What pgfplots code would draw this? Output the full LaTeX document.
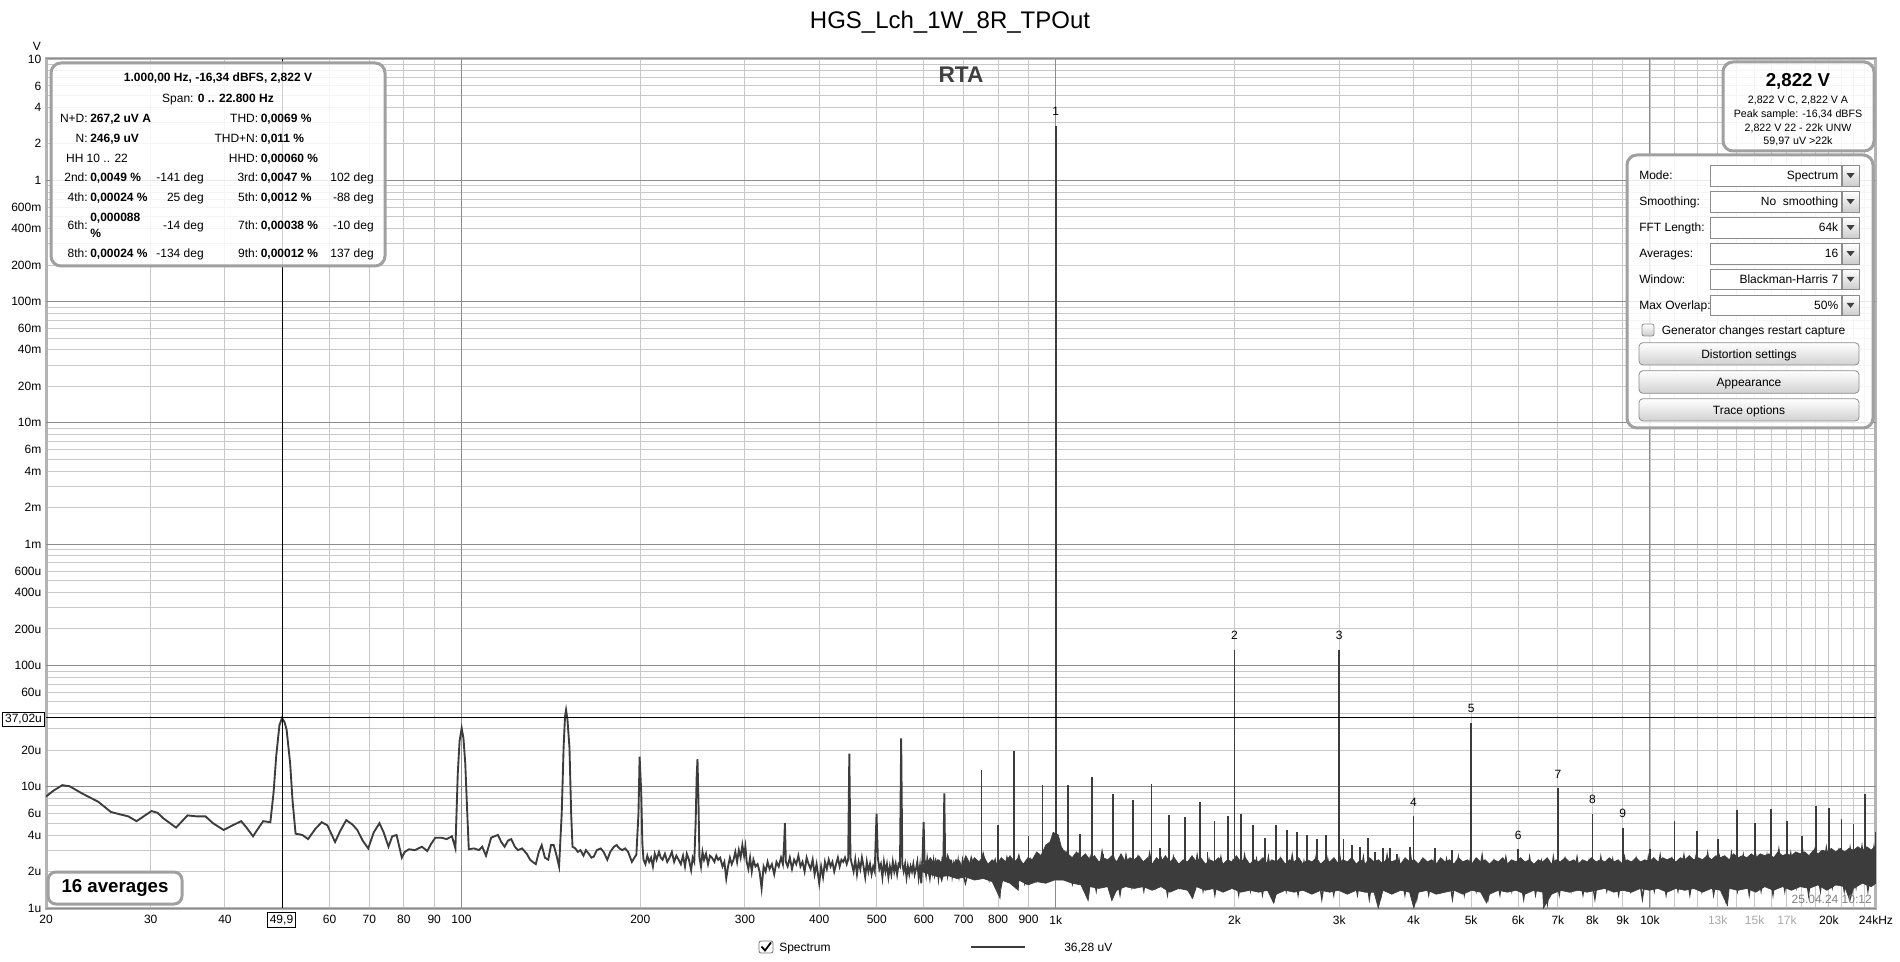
\documentclass[border=0pt]{standalone}
\usepackage{fontspec}
\setmainfont{Liberation Sans}
\usepackage{pgfplots}
\pgfplotsset{compat=1.18}
\definecolor{trace}{HTML}{3C3C3C}
\definecolor{gminor}{HTML}{C8C8C8}
\definecolor{gmajor}{HTML}{8C8C8C}
\definecolor{frame}{HTML}{B4B4B4}
\definecolor{bord}{HTML}{A0A0A0}
\definecolor{lab}{HTML}{A8A8A8}
\newcommand\fn{\fontsize{9}{10.5}\selectfont}
\newcommand\fs{\fontsize{8}{9.5}\selectfont}
\begin{document}
\begin{tikzpicture}
\path[use as bounding box] (0,0) rectangle (1425pt,720.75pt);
\begin{axis}[
  at={(34.5pt,39.75pt)}, anchor=south west,
  scale only axis, width=1372.5pt, height=636.75pt,
  xmode=log, ymode=log,
  xmin=20, xmax=24000, ymin=1, ymax=1e7,
  axis line style={draw=frame, line width=2.25pt},
  major tick length=0pt, minor tick length=0pt,
  grid=both,
  major grid style={draw=gminor, line width=0.7pt},
  minor grid style={draw=gminor, line width=0.7pt},
  xtick={20,30,40,60,70,80,90,100,200,300,400,500,600,700,800,900,1000,2000,3000,4000,5000,6000,7000,8000,9000,10000,13000,15000,17000,20000,24000},
  xticklabels={20,30,40,60,70,80,90,100,200,300,400,500,600,700,800,900,1k,2k,3k,4k,5k,6k,7k,8k,9k,10k,\textcolor{lab}{13k},\textcolor{lab}{15k},\textcolor{lab}{17k},20k,24kHz},
  minor xtick={50,11000,12000,14000,16000,18000,19000,21000,22000,23000},
  ytick={1,2,4,6,10,20,60,100,200,400,600,1000,2000,4000,6000,1e4,2e4,4e4,6e4,1e5,2e5,4e5,6e5,1e6,2e6,4e6,6e6,1e7},
  yticklabels={1u,2u,4u,6u,10u,20u,60u,100u,200u,400u,600u,1m,2m,4m,6m,10m,20m,40m,60m,100m,200m,400m,600m,1,2,4,6,10},
  minor ytick={3,5,7,8,9,30,40,50,70,80,90,300,500,700,800,900,3000,5000,7000,8000,9000,3e4,5e4,7e4,8e4,9e4,3e5,5e5,7e5,8e5,9e5,3e6,5e6,7e6,8e6,9e6},
  extra x ticks={100,1000,10000}, extra x tick labels={},
  extra x tick style={grid=major, major grid style={draw=gmajor, line width=0.75pt}},
  extra y ticks={1,10,100,1000,1e4,1e5,1e6,1e7}, extra y tick labels={},
  extra y tick style={grid=major, major grid style={draw=gmajor, line width=0.75pt}},
  xticklabel style={font=\fn, yshift=-2pt},
  yticklabel style={font=\fn},
]
% noise floor band (upper edge forward, lower edge backward)
\addplot[draw=trace, fill=trace, line width=0.5pt] table {
594 2.4
603 2.2
615 2.6
625 2.3
636 2.5
648 2.2
659 2.6
670 2.3
682 2.5
694 2.2
706 2.7
718 2.3
730 2.6
743 2.4
756 2.7
769 2.3
782 2.5
796 2.3
810 2.6
824 2.4
838 2.7
852 2.4
867 2.6
882 2.3
898 2.6
913 2.5
929 2.9
945 2.7
962 3.3
978 3.5
990 4.2
1010 4.0
1022 3.2
1030 3.0
1048 2.8
1066 2.6
1084 2.9
1103 2.6
1122 2.8
1142 2.5
1162 2.7
1182 2.4
1202 2.6
1223 2.5
1244 2.7
1266 2.4
1288 2.8
1310 2.4
1333 2.6
1356 2.5
1380 2.7
1404 2.4
1428 2.6
1453 2.3
1478 2.6
1504 2.4
1530 2.7
1556 2.4
1583 2.6
1611 2.3
1639 2.5
1667 2.4
1696 2.7
1725 2.4
1755 2.6
1786 2.3
1817 2.5
1848 2.4
1880 2.6
1913 2.3
1946 2.5
1980 2.4
2014 2.7
2049 2.4
2085 2.6
2121 2.3
2158 2.5
2195 2.4
2233 2.6
2272 2.3
2311 2.5
2351 2.4
2392 2.6
2434 2.3
2476 2.5
2519 2.4
2563 2.6
2607 2.3
2652 2.5
2698 2.4
2745 2.6
2793 2.3
2841 2.5
2890 2.4
2940 2.6
2992 2.3
3043 2.5
3096 2.4
3150 2.6
3205 2.3
3260 2.5
3317 2.3
3375 2.6
3433 2.4
3493 2.5
3553 2.3
3615 2.6
3678 2.4
3741 2.5
3806 2.3
3872 2.6
3940 2.4
4008 2.5
4077 2.3
4148 2.6
4220 2.4
4293 2.5
4368 2.3
4444 2.6
4521 2.4
4599 2.5
4679 2.3
4760 2.6
4843 2.4
4927 2.5
5012 2.3
5099 2.6
5188 2.4
5278 2.5
5369 2.3
5462 2.5
5557 2.4
5654 2.6
5752 2.3
5852 2.5
5953 2.4
6056 2.6
6161 2.4
6268 2.5
6377 2.3
6488 2.5
6600 2.4
6715 2.6
6831 2.3
6950 2.5
7070 2.4
7193 2.6
7318 2.4
7445 2.5
7574 2.3
7706 2.5
7839 2.4
7975 2.6
8113 2.4
8254 2.5
8397 2.4
8543 2.6
8691 2.4
8842 2.5
8995 2.3
9151 2.5
9310 2.4
9472 2.6
9636 2.4
9803 2.5
9973 2.4
10146 2.6
10322 2.4
10501 2.6
10683 2.5
10868 2.6
11057 2.4
11249 2.6
11444 2.5
11643 2.7
11845 2.5
12050 2.6
12259 2.5
12472 2.7
12688 2.5
12909 2.7
13132 2.6
13360 2.7
13592 2.5
13828 2.8
14068 2.6
14312 2.7
14560 2.6
14812 2.8
15070 2.6
15331 2.8
15597 2.7
15868 2.8
16143 2.6
16423 2.9
16708 2.7
16998 2.8
17293 2.7
17593 2.9
17898 2.8
18209 2.9
18525 2.7
18846 3.0
19173 2.8
19506 3.0
19844 2.9
20189 3.1
20539 2.9
20896 3.1
21258 2.9
21627 3.1
22002 3.0
22384 3.2
22772 3.0
23167 3.2
23569 3.0
24000 3.3
24000 1.6
23569 1.5
22772 1.6
22002 1.45
21700 1.15
21258 1.5
20539 1.55
19844 1.4
19173 1.55
18525 1.45
17898 1.5
17293 1.4
16708 1.5
16143 1.4
15597 1.5
15070 1.35
14560 1.45
14068 1.4
13592 1.45
13500 1.05
13132 1.4
12688 1.45
12259 1.35
11845 1.45
11444 1.4
11057 1.45
10683 1.35
10322 1.45
9973 1.4
9636 1.45
9310 1.35
8995 1.4
8691 1.35
8397 1.45
8113 1.4
7839 1.35
7574 1.4
7318 1.35
7070 1.4
6831 1.3
6620 1.0
6600 1.35
6377 1.4
6161 1.3
5953 1.4
5752 1.35
5557 1.4
5369 1.3
5310 1.1
5188 1.35
5012 1.4
4843 1.3
4679 1.4
4521 1.35
4368 1.3
4220 1.4
4077 1.35
4005 1.0
3940 1.35
3806 1.4
3678 1.3
3553 1.4
3490 1.0
3433 1.35
3317 1.35
3205 1.4
3096 1.3
2992 1.4
2890 1.35
2793 1.4
2698 1.3
2607 1.4
2519 1.35
2434 1.4
2351 1.3
2326 1.1
2272 1.4
2195 1.35
2121 1.4
2049 1.35
1980 1.45
1913 1.35
1848 1.45
1786 1.4
1725 1.5
1700 1.2
1667 1.4
1611 1.45
1556 1.35
1504 1.5
1453 1.4
1404 1.5
1356 1.45
1310 1.5
1266 1.4
1243 1.15
1223 1.5
1182 1.45
1142 1.5
1134 1.15
1103 1.55
1066 1.6
1030 1.7
995 1.7
962 1.6
929 1.65
898 1.55
867 1.7
865 1.4
838 1.6
810 1.7
806 1.2
782 1.65
756 1.75
730 1.7
706 1.8
682 1.75
659 1.85
636 1.8
615 1.9
594 2.0
};
% noise trace over the band
\addplot[trace, line width=1.1pt] table {
600 2.6
614 1.8
628 2.5
643 1.7
658 2.7
673 1.9
689 2.4
705 1.6
721 2.6
738 1.8
755 2.8
773 1.7
791 2.5
809 1.5
828 2.6
847 1.8
867 2.7
887 1.6
908 2.5
929 1.7
951 2.9
973 1.8
996 3.4
1019 1.9
1043 2.8
1067 1.6
1092 2.7
1117 1.5
1143 2.6
1170 1.4
1197 2.9
1225 1.6
1254 2.5
1283 1.3
1313 2.7
1343 1.5
1375 2.6
1407 1.4
1439 2.8
1473 1.5
1507 2.5
1542 1.3
1578 2.6
1615 1.5
1652 2.4
1691 1.3
1730 2.7
1770 1.4
1811 2.5
1853 1.3
1897 2.6
1941 1.5
1986 2.4
2032 1.3
2079 2.7
2128 1.4
2177 2.5
2228 1.3
2280 2.6
2333 1.2
2387 2.5
2443 1.4
2500 2.7
2558 1.3
2617 2.4
2678 1.4
2741 2.6
2804 1.2
2870 2.5
2937 1.3
3005 2.7
3075 1.4
3146 2.4
3219 1.3
3294 2.6
3371 1.2
3449 2.5
3530 1.3
3612 2.7
3696 1.4
3782 2.5
3870 1.3
3960 2.6
4052 1.2
4146 2.4
4243 1.3
4341 2.6
4442 1.4
4546 2.5
4651 1.2
4760 2.6
4870 1.3
4984 2.5
5100 1.4
5218 2.7
5340 1.2
5464 2.4
5591 1.3
5721 2.6
5854 1.4
5990 2.5
6130 1.2
6272 2.6
6418 1.3
6568 2.4
6720 1.1
6877 2.6
7037 1.3
7200 2.5
7368 1.4
7539 2.6
7715 1.3
7894 2.4
8078 1.2
8266 2.6
8458 1.4
8655 2.5
8856 1.3
9062 2.6
9273 1.4
9489 2.5
9710 1.2
9936 2.6
10167 1.4
10403 2.7
10645 1.3
10893 2.5
11146 1.4
11406 2.7
11671 1.3
11943 2.6
12220 1.4
12505 2.8
12796 1.3
13093 2.6
13398 1.2
13710 2.8
14029 1.4
14355 2.7
14689 1.3
15031 2.9
15380 1.4
15738 2.7
16104 1.3
16479 3.0
16862 1.4
17254 2.8
17656 1.5
18066 3.0
18486 1.3
18917 2.9
19357 1.4
19807 3.1
20268 1.5
20739 2.9
21222 1.4
21715 3.1
22220 1.5
22737 3.2
23266 1.4
23807 3.1
24000 2.0
};
% low-frequency trace
\addplot[trace, line width=1.4pt] table {
20 8.3
20.6 9.3
21.3 10.3
21.9 10.1
23.0 8.8
24.5 7.5
25.7 6.2
26.7 5.9
27.5 5.7
28.4 5.2
29.2 5.7
30.1 6.3
30.8 6.1
31.5 5.5
33.1 4.6
34.6 5.8
35.8 5.7
37.1 5.7
38.2 5.0
39.8 4.4
41.2 4.8
42.6 5.2
43.5 4.6
44.6 3.9
45.6 4.6
46.4 5.2
47.7 5.1
48.3 9.0
48.8 18
49.4 32
49.9 37.0
50.4 34
50.8 29.5
51.5 15.6
52.0 7.5
52.6 4.1
54.0 4.0
55.2 3.7
56.8 4.5
58.2 5.1
59.5 4.8
61.3 3.5
62.5 4.3
64.0 5.3
65.5 4.9
66.8 4.4
68.2 3.6
69.7 3.1
71.2 4.2
72.8 5.0
74.0 4.2
75.4 3.2
76.5 3.9
77.8 4.0
79.4 2.6
80.3 2.9
81.6 3.05
83.5 3.0
85.8 3.2
87.6 2.95
89.0 3.4
90.4 3.8
92.5 3.8
94.4 3.7
96.4 3.9
97.7 3.1
98.6 12.9
99.3 24
100.1 30.4
100.8 25
101.5 15.6
102.3 6
102.9 3.05
105 3.1
107 3.0
108.4 3.2
110 2.7
112.2 3.8
113.6 3.9
115.2 4.0
116.7 3.5
118.2 3.2
119.8 3.6
121.3 3.7
123 3.2
124.5 3.0
126.5 3.1
128.8 2.8
130.5 2.5
131.8 2.4
133.4 2.3
135 2.9
136.5 3.3
138.2 2.6
140 2.5
141.5 3.3
143 3.3
144.6 2.7
146 2.2
147.5 6
148.6 21.4
149.4 38
150 43
150.8 36
152 21
153 6
153.8 3.2
155.5 3.1
157 2.9
158.6 3.0
160.5 2.7
162 3.0
163.8 2.8
165.5 2.6
167 2.65
169 3.0
171.6 3.1
173.5 2.9
176 2.5
178 2.9
180.6 3.2
182.5 3.3
184.5 3.1
186.5 3.0
188.6 3.1
190.8 2.9
193.6 2.4
195.5 2.6
197 2.75
198.6 6
199.5 17.7
200.7 9
201.6 3.4
202.5 2.5
204 2.3
205.5 2.7
207 2.4
208.5 2.6
210 2.2
211.5 2.8
213 2.5
215 2.9
216.5 2.6
218 2.5
220 2.8
222 2.4
224 2.6
226 2.9
228 2.4
230 2.7
232 2.5
234 2.3
236 2.7
237.8 2.2
239.5 2.8
241.5 2.5
243.5 2.05
245 2.6
246.5 2.4
247.8 5
248.8 12
249.6 16.9
250.5 8
251.5 2.6
253 2.2
254.5 2.9
256 2.5
258 2.8
260 2.3
262 2.7
264 2.6
266.5 2.4
268.5 2.7
270.5 2.5
272.5 2.6
275 2.2
277 2.4
279 1.75
281 2.2
283 2.6
285 2.3
287 2.5
289 2.9
291 2.4
293 3.0
295 2.6
297 3.3
299 2.7
300.5 3.2
302 2.4
304 2.1
306 2.6
308 2.0
310 2.5
312.5 2.2
315 2.3
317.5 2.0
320 1.45
322.5 2.2
325 2.0
327.5 2.4
330 2.1
333 2.3
336 1.9
339 2.4
342 2.2
345 2.6
347.5 2.3
349 3.2
350.3 5.0
351.5 2.4
354 2.2
357 2.6
360 2.1
363 2.5
366 2.3
369 2.7
372 2.2
375 2.4
378 2.0
381 2.6
384 2.3
387 2.1
390 2.5
393 1.9
396 2.3
400 1.6
403 2.2
406 1.8
409 2.4
412 2.1
415 2.5
418 2.2
421 2.4
424 2.0
427 2.3
430 2.6
433 2.2
436 2.5
439 2.4
442 2.6
445 2.3
447.5 2.5
449.5 18.7
451.5 2.6
454 2.3
457 2.0
460 2.5
463 1.9
466 2.4
469 2.1
472 2.6
475 2.2
478 1.8
481 2.4
484 2.0
487 2.3
490 1.9
493 2.2
496 2.0
499.5 6.0
502 2.6
505 2.1
508 2.3
511 1.8
514 2.4
517 2.0
520 2.3
523 1.8
526 2.2
529 1.9
532 2.4
535 2.0
538 2.3
541 1.9
544 2.3
547 2.2
549.5 25
552 2.3
555 2.0
558 2.3
561 1.8
564 2.2
567 1.9
570 2.2
573 2.0
576 2.3
579 1.9
582 2.1
585 2.4
588 1.8
591 2.2
594 1.6
597 2.6
599.5 5.1
602 2.2
605 1.9
608 2.5
611 2.1
614 1.8
617 2.3
620 2.0
623 2.4
626 1.9
629 2.1
632 2.3
635 1.8
638 2.2
641 2.0
644 2.4
647 2.1
649.5 8.8
652 2.0
655 2.3
658 1.9
661 2.2
664 2.0
667 2.5
670 1.9
673 2.2
676 1.8
679 2.3
682 2.1
685 2.4
688 1.9
691 2.2
694 2.0
697 2.4
700 2.1
};
% discrete spectral lines above the noise
\addplot[trace, line width=1.3pt, unbounded coords=jump] table {
750 1.9
750 13.8
750 nan
800 1.9
800 4.8
800 nan
850 1.9
850 19.6
850 nan
900 1.9
900 3.95
900 nan
950 1.9
950 10.4
950 nan
1050 1.9
1050 10.4
1050 nan
1100 1.9
1100 4.1
1100 nan
1150 1.9
1150 12
1150 nan
1200 1.9
1200 2.8
1200 nan
1250 1.9
1250 8.7
1250 nan
1350 1.9
1350 7.8
1350 nan
1450 1.9
1450 10.6
1450 nan
1500 1.9
1500 3.1
1500 nan
1550 1.9
1550 5.8
1550 nan
1650 1.9
1650 5.6
1650 nan
1750 1.9
1750 7.5
1750 nan
1800 1.9
1800 2.9
1800 nan
1850 1.9
1850 5.2
1850 nan
1950 1.9
1950 5.7
1950 nan
2000 1.9
2000 135
2000 nan
2050 1.9
2050 6.0
2050 nan
2150 1.9
2150 4.8
2150 nan
2250 1.9
2250 3.8
2250 nan
2350 1.9
2350 4.8
2350 nan
2450 1.9
2450 4.4
2450 nan
2550 1.9
2550 4.2
2550 nan
2650 1.9
2650 4.0
2650 nan
2750 1.9
2750 3.7
2750 nan
2850 1.9
2850 4.0
2850 nan
3000 1.9
3000 135
3000 nan
3050 1.9
3050 3.7
3050 nan
3150 1.9
3150 3.3
3150 nan
3250 1.9
3250 3.2
3250 nan
3350 1.9
3350 3.8
3350 nan
3450 1.9
3450 2.9
3450 nan
3550 1.9
3550 3.1
3550 nan
3650 1.9
3650 3.1
3650 nan
3750 1.9
3750 2.8
3750 nan
3950 1.9
3950 3.2
3950 nan
4000 1.9
4000 5.7
4000 nan
4350 1.9
4350 3.1
4350 nan
4650 1.9
4650 3.0
4650 nan
5000 1.9
5000 33.8
5000 nan
6000 1.9
6000 3.05
6000 nan
7000 1.9
7000 9.7
7000 nan
8000 1.9
8000 6.0
8000 nan
9000 1.9
9000 4.6
9000 nan
10000 1.9
10000 3.05
10000 nan
11000 1.9
11000 5.2
11000 nan
12000 1.9
12000 4.3
12000 nan
13000 1.9
13000 3.7
13000 nan
14000 1.9
14000 6.4
14000 nan
15000 1.9
15000 5.0
15000 nan
16000 1.9
16000 6.6
16000 nan
17000 1.9
17000 5.2
17000 nan
18000 1.9
18000 3.9
18000 nan
19000 1.9
19000 6.9
19000 nan
20000 1.9
20000 6.7
20000 nan
21000 1.9
21000 5.4
21000 nan
22000 1.9
22000 4.9
22000 nan
23000 1.9
23000 8.7
23000 nan
23950 1.9
23950 4.2
};
% fundamental
\addplot[trace, line width=1.7pt] table {
1000 2.5
1000 2822000
};
% cursor lines
\addplot[black, line width=0.75pt] coordinates {(49.9,1) (49.9,1e7)};
\addplot[black, line width=0.75pt] coordinates {(20,37.02) (24000,37.02)};
% harmonic numbers
\node[font=\fn, anchor=base, inner sep=0pt, yshift=7.5pt] at (axis cs:1000,2822000) {1};
\node[font=\fn, anchor=base, inner sep=0pt, yshift=7.5pt] at (axis cs:2000,135) {2};
\node[font=\fn, anchor=base, inner sep=0pt, yshift=7.5pt] at (axis cs:3000,135) {3};
\node[font=\fn, anchor=base, inner sep=0pt, yshift=7.5pt] at (axis cs:4000,5.7) {4};
\node[font=\fn, anchor=base, inner sep=0pt, yshift=7.5pt] at (axis cs:5000,33.8) {5};
\node[font=\fn, anchor=base, inner sep=0pt, yshift=7.5pt] at (axis cs:6000,3.05) {6};
\node[font=\fn, anchor=base, inner sep=0pt, yshift=7.5pt] at (axis cs:7000,9.7) {7};
\node[font=\fn, anchor=base, inner sep=0pt, yshift=7.5pt] at (axis cs:8000,6.0) {8};
\node[font=\fn, anchor=base, inner sep=0pt, yshift=7.5pt] at (axis cs:9000,4.6) {9};
\end{axis}
\begin{scope}[yshift=720.75pt, x=0.75pt, y=-0.75pt]
% title and axis unit
\node[font=\fontsize{18}{20}\selectfont, anchor=base] at (950,29) {HGS\_Lch\_1W\_8R\_TPOut};
\node[font=\fn, anchor=base] at (37,51) {V};
\node[font=\fontsize{17}{19}\selectfont\bfseries, text=black!75, anchor=base] at (961,83) {RTA};
% cursor value boxes
\node[draw=black, line width=0.6pt, fill=white, font=\fn, inner sep=1.5pt, minimum width=32pt, minimum height=10.5pt] at (23.5,719) {37,02u};
\node[draw=black, line width=0.6pt, fill=white, font=\fn, inner sep=1.5pt, minimum height=11pt] at (281.5,920) {49,9};
% left info box
\draw[bord, line width=2.25pt, fill=white, fill opacity=0.82, rounded corners=7.5pt] (51,63) rectangle (385,266);
\node[font=\fn\bfseries, anchor=base, inner sep=0pt] at (218,81.6) {1.000,00 Hz, -16,34 dBFS, 2,822 V};
\node[font=\fn, anchor=base, inner sep=0pt] at (218,102.6) {Span: \textbf{0 .. 22.800 Hz}};
% column 1 labels / values
\node[font=\fn, anchor=base east, inner sep=0pt] at (88,122.6) {N+D:};
\node[font=\fn\bfseries, anchor=base west, inner sep=0pt] at (90,122.6) {267,2 uV A};
\node[font=\fn, anchor=base east, inner sep=0pt] at (88,142.6) {N:};
\node[font=\fn\bfseries, anchor=base west, inner sep=0pt] at (90,142.6) {246,9 uV};
\node[font=\fn, anchor=base, inner sep=0pt] at (97,162.6) {HH 10 .. 22};
\node[font=\fn, anchor=base east, inner sep=0pt] at (88,182) {2nd:};
\node[font=\fn\bfseries, anchor=base west, inner sep=0pt] at (90,182) {0,0049 \%};
\node[font=\fn, anchor=base east, inner sep=0pt] at (88,202) {4th:};
\node[font=\fn\bfseries, anchor=base west, inner sep=0pt] at (90,202) {0,00024 \%};
\node[font=\fn, anchor=base east, inner sep=0pt] at (88,229.3) {6th:};
\node[font=\fn\bfseries, anchor=base west, inner sep=0pt] at (90,222) {0,000088};
\node[font=\fn\bfseries, anchor=base west, inner sep=0pt] at (90,237.6) {\%};
\node[font=\fn, anchor=base east, inner sep=0pt] at (88,257.6) {8th:};
\node[font=\fn\bfseries, anchor=base west, inner sep=0pt] at (90,257.6) {0,00024 \%};
% phase column 1
\node[font=\fn, anchor=base east, inner sep=0pt] at (204,182) {-141 deg};
\node[font=\fn, anchor=base east, inner sep=0pt] at (204,202) {25 deg};
\node[font=\fn, anchor=base east, inner sep=0pt] at (204,229.3) {-14 deg};
\node[font=\fn, anchor=base east, inner sep=0pt] at (204,257.6) {-134 deg};
% column 2 labels / values
\node[font=\fn, anchor=base east, inner sep=0pt] at (258.5,122.6) {THD:};
\node[font=\fn\bfseries, anchor=base west, inner sep=0pt] at (260.5,122.6) {0,0069 \%};
\node[font=\fn, anchor=base east, inner sep=0pt] at (258.5,142.6) {THD+N:};
\node[font=\fn\bfseries, anchor=base west, inner sep=0pt] at (260.5,142.6) {0,011 \%};
\node[font=\fn, anchor=base east, inner sep=0pt] at (258.5,162.6) {HHD:};
\node[font=\fn\bfseries, anchor=base west, inner sep=0pt] at (260.5,162.6) {0,00060 \%};
\node[font=\fn, anchor=base east, inner sep=0pt] at (258.5,182) {3rd:};
\node[font=\fn\bfseries, anchor=base west, inner sep=0pt] at (260.5,182) {0,0047 \%};
\node[font=\fn, anchor=base east, inner sep=0pt] at (258.5,202) {5th:};
\node[font=\fn\bfseries, anchor=base west, inner sep=0pt] at (260.5,202) {0,0012 \%};
\node[font=\fn, anchor=base east, inner sep=0pt] at (258.5,229.3) {7th:};
\node[font=\fn\bfseries, anchor=base west, inner sep=0pt] at (260.5,229.3) {0,00038 \%};
\node[font=\fn, anchor=base east, inner sep=0pt] at (258.5,257.6) {9th:};
\node[font=\fn\bfseries, anchor=base west, inner sep=0pt] at (260.5,257.6) {0,00012 \%};
% phase column 2
\node[font=\fn, anchor=base east, inner sep=0pt] at (374,182) {102 deg};
\node[font=\fn, anchor=base east, inner sep=0pt] at (374,202) {-88 deg};
\node[font=\fn, anchor=base east, inner sep=0pt] at (374,229.3) {-10 deg};
\node[font=\fn, anchor=base east, inner sep=0pt] at (374,257.6) {137 deg};
% right top box
\draw[bord, line width=2.25pt, fill=white, fill opacity=0.82, rounded corners=7.5pt] (1723,62) rectangle (1874,151);
\node[font=\fontsize{14}{16}\selectfont\bfseries, anchor=base, inner sep=0pt] at (1798,86.5) {2,822 V};
\node[font=\fs, anchor=base, inner sep=0pt] at (1798,103.8) {2,822 V C, 2,822 V A};
\node[font=\fs, anchor=base, inner sep=0pt] at (1798,117.1) {Peak sample: -16,34 dBFS};
\node[font=\fs, anchor=base, inner sep=0pt] at (1798,131.5) {2,822 V 22 - 22k UNW};
\node[font=\fs, anchor=base, inner sep=0pt] at (1798,144.5) {59,97 uV >22k};
% controls panel
\draw[bord, line width=2.25pt, fill=white, fill opacity=0.82, rounded corners=7.5pt] (1627,155) rectangle (1873,428);
\foreach \yc/\la/\va in {175.7/Mode:/Spectrum, 201.7/Smoothing:/No\ \ smoothing, 227.7/FFT Length:/64k, 253.7/Averages:/16, 279.3/Window:/Blackman-Harris 7, 305.3/Max Overlap:/50\%}{
  \node[font=\fn, anchor=base west, inner sep=0pt] at (1639,\yc+4.3) {\la};
  \draw[black!45, line width=0.6pt, fill=white] (1710,\yc-10) rectangle (1841,\yc+10.5);
  \draw[black!45, line width=0.6pt, top color=white, bottom color=black!20] (1842,\yc-10) rectangle (1859,\yc+10.5);
  \fill[black!75] (1846.5,\yc-2.5) -- (1854.5,\yc-2.5) -- (1850.5,\yc+2.5) -- cycle;
  \node[font=\fn, anchor=base east, inner sep=0pt] at (1838.5,\yc+4.3) {\va};
}
\draw[black!45, line width=0.6pt, top color=white, bottom color=black!20, rounded corners=1.5pt] (1642,324) rectangle (1654,336);
\node[font=\fn, anchor=base west, inner sep=0pt] at (1661.5,334.3) {Generator changes restart capture};
\foreach \ya/\yb/\t in {342.7/365/Distortion settings, 370.7/393.3/Appearance, 398.7/421/Trace options}{
  \draw[black!45, line width=0.6pt, top color=white, bottom color=black!18, rounded corners=3pt] (1639,\ya) rectangle (1859,\yb);
  \node[font=\fn, anchor=base, inner sep=0pt] at (1749,{(\ya+\yb)/2+4.3}) {\t};
}
% averages box and timestamp
\draw[bord, line width=2.25pt, fill=white, rounded corners=6pt] (48,872) rectangle (182,904);
\node[font=\fontsize{14}{16}\selectfont\bfseries, inner sep=0pt] at (115,888) {16 averages};
\node[font=\fn, text=black!50, anchor=base east, inner sep=0pt] at (1872,903.3) {25.04.24 10:12};
% legend
\draw[black!55, line width=0.6pt, fill=white, rounded corners=1.5pt] (759,941) rectangle (773,953);
\draw[black, line width=1.3pt] (761.5,946.5) -- (765,950.5) -- (771,942.5);
\node[font=\fn, anchor=base west, inner sep=0pt] at (779,951.3) {Spectrum};
\draw[trace, line width=1.5pt] (971,947) -- (1025,947);
\node[font=\fn, anchor=base west, inner sep=0pt] at (1064,951.3) {36,28 uV};
\end{scope}
\end{tikzpicture}
\end{document}
